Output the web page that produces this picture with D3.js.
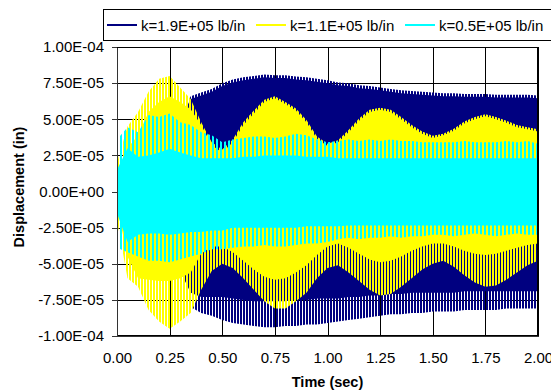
<!DOCTYPE html>
<html>
<head>
<meta charset="utf-8">
<title>Displacement vs time</title>
<script src="https://cdn.jsdelivr.net/npm/d3@7"></script>
<style>
body { margin: 0; background: #fff; }
svg { display: block; font-family: "Liberation Sans", Arial, sans-serif; }
.grid line { stroke: #000; stroke-width: 1; shape-rendering: crispEdges; }
.grid path { display: none; }
.axis text { font-size: 15px; fill: #000; }
.axis path, .axis line { stroke: #333; shape-rendering: crispEdges; }
.title { font-size: 14.5px; font-weight: bold; fill: #000; }
.legend text { font-size: 15px; fill: #000; }
</style>
</head>
<body>
<script>
// time (sec), one reading every 0.05 s
var times = [0.00, 0.05, 0.10, 0.15, 0.20, 0.25, 0.30, 0.35, 0.40, 0.45,
             0.50, 0.55, 0.60, 0.65, 0.70, 0.75, 0.80, 0.85, 0.90, 0.95,
             1.00, 1.05, 1.10, 1.15, 1.20, 1.25, 1.30, 1.35, 1.40, 1.45,
             1.50, 1.55, 1.60, 1.65, 1.70, 1.75, 1.80, 1.85, 1.90, 1.95, 2.00];

// displacement envelopes, in units of 1E-05 in
// "peak" = tips of the oscillation spikes, "band" = where the trace is solid

// k=1.9E+05 lb/in
var k19PeakHi = [1.5, 2.0, 2.0, 2.0, 2.2, 3.0, 5.2, 6.6, 6.85, 7.1,
                 7.5, 7.75, 7.9, 8.0, 8.1, 8.05, 8.05, 7.95, 7.9, 7.8,
                 7.7, 7.55, 7.5, 7.35, 7.3, 7.2, 7.1, 7.0, 6.95, 6.9,
                 6.85, 6.8, 6.8, 6.75, 6.75, 6.75, 6.7, 6.7, 6.7, 6.7, 6.65];
var k19BandHi = [1.5, 2.0, 2.0, 2.0, 2.2, 3.0, 5.0, 6.4, 6.65, 6.9,
                 7.3, 7.55, 7.7, 7.8, 7.9, 7.85, 7.85, 7.75, 7.7, 7.6,
                 7.5, 7.35, 7.3, 7.15, 7.1, 7.0, 6.9, 6.8, 6.75, 6.7,
                 6.65, 6.6, 6.6, 6.55, 6.55, 6.55, 6.5, 6.5, 6.5, 6.5, 6.45];
var k19BandLo = [-1.5, -2.0, -2.0, -2.2, -2.4, -3.0, -5.5, -7.0, -7.3, -7.3,
                 -7.3, -7.4, -7.5, -7.6, -7.6, -7.6, -7.6, -7.5, -7.5, -7.4,
                 -7.4, -7.4, -7.3, -7.3, -7.2, -7.2, -7.1, -7.1, -7.0, -7.0,
                 -7.0, -7.0, -7.0, -6.9, -6.9, -6.9, -6.9, -6.9, -6.9, -6.9, -6.9];
var k19PeakLo = [-1.5, -2.0, -2.0, -2.2, -2.4, -3.0, -6.5, -8.0, -8.4, -8.6,
                 -8.9, -9.1, -9.2, -9.3, -9.4, -9.4, -9.3, -9.3, -9.2, -9.2,
                 -9.1, -9.0, -8.9, -8.8, -8.7, -8.6, -8.5, -8.5, -8.4, -8.4,
                 -8.3, -8.3, -8.3, -8.2, -8.2, -8.2, -8.2, -8.1, -8.1, -8.1, -8.1];

// k=1.1E+05 lb/in
var k11PeakHi = [2.0, 4.5, 5.5, 6.9, 7.8, 8.0, 7.2, 6.4, 4.8, 3.4,
                 2.9, 3.6, 4.8, 5.6, 6.35, 6.6, 6.2, 5.75, 4.95, 3.8,
                 3.3, 3.55, 4.25, 5.05, 5.65, 5.8, 5.65, 5.15, 4.6, 4.15,
                 3.85, 4.0, 4.35, 4.85, 5.15, 5.35, 5.15, 4.9, 4.6, 4.45, 4.3];
var k11BandHi = [1.0, 3.0, 3.9, 5.5, 6.2, 6.6, 6.2, 5.7, 4.6, 3.2,
                 2.7, 3.4, 4.6, 5.4, 6.2, 6.45, 6.05, 5.6, 4.8, 3.65,
                 3.15, 3.4, 4.1, 4.9, 5.5, 5.65, 5.5, 5.0, 4.45, 4.0,
                 3.7, 3.9, 4.2, 4.7, 5.0, 5.2, 5.0, 4.75, 4.45, 4.3, 4.15];
var k11BandLo = [-1.0, -4.5, -6.0, -6.1, -6.2, -6.2, -6.0, -5.6, -4.3, -3.8,
                 -3.8, -4.2, -4.8, -5.4, -5.9, -6.1, -6.0, -5.6, -5.1, -4.4,
                 -3.8, -3.6, -3.9, -4.3, -4.7, -4.9, -4.8, -4.5, -4.1, -3.8,
                 -3.6, -3.6, -3.8, -4.1, -4.3, -4.4, -4.3, -4.1, -3.9, -3.7, -3.6];
var k11PeakLo = [-2.0, -6.0, -6.6, -8.2, -9.0, -9.5, -9.0, -8.4, -6.8, -5.5,
                 -5.0, -5.3, -6.0, -6.8, -7.6, -8.1, -8.1, -7.6, -7.0, -6.0,
                 -5.3, -5.1, -5.6, -6.2, -6.8, -7.2, -7.1, -6.6, -6.0, -5.4,
                 -5.0, -4.8, -5.2, -5.8, -6.3, -6.6, -6.5, -6.1, -5.6, -5.1, -4.8];

// k=0.5E+05 lb/in
var k05PeakHi = [3.6, 4.45, 4.1, 5.3, 5.15, 5.4, 4.8, 4.6, 4.1, 3.9,
                 3.4, 3.6, 3.7, 3.8, 3.8, 3.7, 3.8, 4.0, 3.9, 3.6,
                 3.4, 3.5, 3.6, 3.5, 3.6, 3.5, 3.6, 3.5, 3.5, 3.4,
                 3.4, 3.4, 3.4, 3.5, 3.4, 3.4, 3.4, 3.5, 3.4, 3.5, 3.3];
var k05BandHi = [1.5, 3.0, 2.4, 2.5, 2.7, 2.95, 2.7, 2.5, 2.3, 2.3,
                 2.3, 2.3, 2.4, 2.4, 2.5, 2.5, 2.5, 2.5, 2.4, 2.4,
                 2.4, 2.3, 2.3, 2.3, 2.3, 2.3, 2.3, 2.3, 2.3, 2.3,
                 2.3, 2.3, 2.3, 2.3, 2.3, 2.3, 2.3, 2.3, 2.3, 2.3, 2.3];
var k05BandLo = [-1.5, -3.5, -3.0, -2.9, -2.9, -3.0, -2.9, -2.8, -2.8, -2.7,
                 -2.7, -2.5, -2.5, -2.5, -2.5, -2.5, -2.5, -2.5, -2.4, -2.4,
                 -2.4, -2.4, -2.35, -2.35, -2.35, -2.35, -2.35, -2.35, -2.35, -2.35,
                 -2.35, -2.35, -2.35, -2.35, -2.35, -2.35, -2.35, -2.35, -2.35, -2.35, -2.35];
var k05PeakLo = [-3.9, -4.2, -4.5, -4.8, -4.8, -4.9, -4.7, -4.5, -4.3, -4.0,
                 -4.0, -3.9, -3.8, -3.8, -3.7, -3.8, -3.8, -3.7, -3.6, -3.6,
                 -3.5, -3.3, -3.2, -3.3, -3.2, -3.2, -3.1, -3.2, -3.1, -3.1,
                 -3.0, -3.0, -3.1, -3.0, -2.9, -3.0, -3.1, -3.0, -2.9, -3.0, -3.0];

var seriesNames = ["k=1.9E+05 lb/in", "k=1.1E+05 lb/in", "k=0.5E+05 lb/in"];
var seriesColors = ["#000080", "#ffff00", "#00ffff"];

var xTicks = [0, 0.25, 0.5, 0.75, 1.0, 1.25, 1.5, 1.75, 2.0];
var yTicks = [-10, -7.5, -5, -2.5, 0, 2.5, 5, 7.5, 10];

var width = 551, height = 392;
var plotLeft = 117, plotRight = 538, plotTop = 47, plotBottom = 336;

var x = d3.scaleLinear().domain([0, 2]).range([plotLeft, plotRight]);
var y = d3.scaleLinear().domain([-10, 10]).range([plotBottom, plotTop]);

// 7.5 -> "7.50E-05"
function sci(v) {
  var s = (v * 1e-5).toExponential(2).toUpperCase();
  var parts = s.split("E");
  var sign = parts[1][0];
  var digits = parts[1].slice(1);
  if (digits.length < 2) digits = "0" + digits;
  return parts[0] + "E" + sign + digits;
}

var svg = d3.select("body").append("svg")
    .attr("width", width)
    .attr("height", height);

var defs = svg.append("defs");
defs.append("clipPath").attr("id", "plotClip")
  .append("rect")
    .attr("x", plotLeft).attr("y", plotTop)
    .attr("width", plotRight - plotLeft).attr("height", plotBottom - plotTop);

// vertical stripes stand in for the dense spikes of each trace
var stripeGap = [3, 3, 4];
seriesColors.forEach(function(c, i) {
  var p = defs.append("pattern")
      .attr("id", "stripes" + i)
      .attr("patternUnits", "userSpaceOnUse")
      .attr("width", stripeGap[i])
      .attr("height", 10);
  p.append("rect")
      .attr("x", 0).attr("y", 0)
      .attr("width", 2).attr("height", 10)
      .attr("fill", c);
});

// grid
svg.append("g")
    .attr("class", "grid")
    .attr("transform", "translate(" + plotLeft + ",0)")
    .call(d3.axisLeft(y).tickValues(yTicks).tickSize(-(plotRight - plotLeft)).tickFormat(""));
svg.append("g")
    .attr("class", "grid")
    .attr("transform", "translate(0," + plotBottom + ")")
    .call(d3.axisBottom(x).tickValues(xTicks).tickSize(-(plotBottom - plotTop)).tickFormat(""));

// series
var series = [
  [k19PeakHi, k19BandHi, k19BandLo, k19PeakLo],
  [k11PeakHi, k11BandHi, k11BandLo, k11PeakLo],
  [k05PeakHi, k05BandHi, k05BandLo, k05PeakLo]
];

var plot = svg.append("g").attr("clip-path", "url(#plotClip)");

function band(hi, lo) {
  return d3.area()
    .x(function(d, i) { return x(times[i]); })
    .y0(function(d, i) { return y(lo[i]); })
    .y1(function(d, i) { return y(hi[i]); })(times);
}

series.forEach(function(s, i) {
  plot.append("path")
      .attr("d", band(s[0], s[3]))
      .attr("fill", "url(#stripes" + i + ")");
  plot.append("path")
      .attr("d", band(s[1], s[2]))
      .attr("fill", seriesColors[i]);
});

// frame
svg.append("rect")
    .attr("x", plotLeft + 0.5).attr("y", plotTop + 0.5)
    .attr("width", plotRight - plotLeft - 1).attr("height", plotBottom - plotTop - 1)
    .attr("fill", "none")
    .attr("stroke", "#000")
    .attr("shape-rendering", "crispEdges");

// axes
svg.append("g")
    .attr("class", "axis")
    .attr("transform", "translate(" + plotLeft + ",0)")
    .call(d3.axisLeft(y).tickValues(yTicks).tickSize(5).tickSizeOuter(0).tickPadding(8).tickFormat(sci));

var xAxis = svg.append("g")
    .attr("class", "axis")
    .attr("transform", "translate(0," + plotBottom + ")")
    .call(d3.axisBottom(x).tickValues(xTicks).tickSize(0).tickPadding(16.5).tickFormat(d3.format(".2f")));
xAxis.select(".domain").attr("stroke", "#000");

svg.append("text")
    .attr("class", "title")
    .attr("x", (plotLeft + plotRight) / 2)
    .attr("y", 387)
    .attr("text-anchor", "middle")
    .text("Time (sec)");

svg.append("text")
    .attr("class", "title")
    .attr("transform", "translate(24," + 187 + ") rotate(-90)")
    .attr("text-anchor", "middle")
    .text("Displacement (in)");

// legend
var legend = svg.append("g").attr("class", "legend");
legend.append("rect")
    .attr("x", 103.5).attr("y", 9.5)
    .attr("width", 460).attr("height", 31)
    .attr("fill", "#fff")
    .attr("stroke", "#000");

var legendX = [107, 256, 405];
seriesNames.forEach(function(name, i) {
  legend.append("line")
      .attr("x1", legendX[i]).attr("x2", legendX[i] + 30)
      .attr("y1", 25).attr("y2", 25)
      .attr("stroke", seriesColors[i])
      .attr("stroke-width", 2);
  legend.append("text")
      .attr("x", legendX[i] + 34)
      .attr("y", 30.5)
      .text(name);
});
</script>
</body>
</html>
